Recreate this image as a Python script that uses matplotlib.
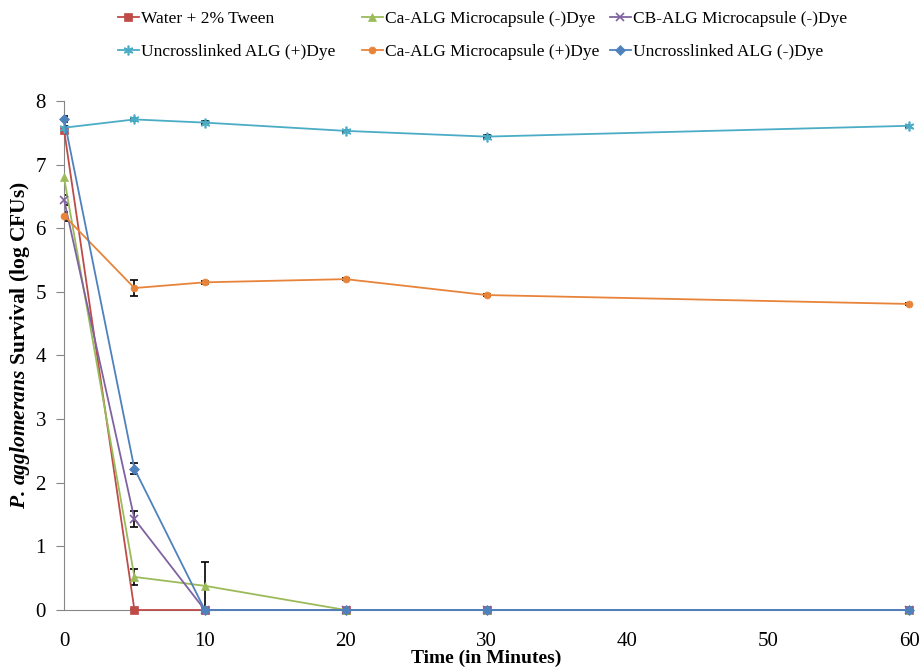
import numpy as np
import matplotlib.pyplot as plt

plt.rcParams['font.family'] = ['Liberation Serif', 'DejaVu Serif']
plt.rcParams['mathtext.fontset'] = 'custom'
plt.rcParams['mathtext.bfit'] = 'Liberation Serif:italic:bold'
plt.rcParams['mathtext.it'] = 'Liberation Serif:italic'
plt.rcParams['mathtext.rm'] = 'Liberation Serif'

time = [0, 5, 10, 20, 30, 60]

water_tween = [7.55, 0, 0, 0, 0, 0]
water_err = [0.05, 0, 0, 0, 0, 0]
ca_alg_nodye = [6.8, 0.52, 0.38, 0, 0, 0]
ca_alg_nodye_err = [0.68, 0.13, 0.38, 0, 0, 0]
cb_alg_nodye = [6.45, 1.43, 0, 0, 0, 0]
cb_alg_nodye_err = [0.08, 0.13, 0, 0, 0, 0]
uncl_dye = [7.58, 7.71, 7.66, 7.53, 7.44, 7.61]
uncl_dye_err = [0.03, 0.02, 0.02, 0.02, 0.02, 0.02]
ca_alg_dye = [6.2, 5.06, 5.15, 5.2, 4.95, 4.81]
ca_alg_dye_err = [0.06, 0.12, 0.02, 0.02, 0.02, 0.02]
uncl_nodye = [7.72, 2.22, 0, 0, 0, 0]
uncl_nodye_err = [0.05, 0.09, 0, 0, 0, 0]

series = [
    ("Water + 2% Tween", water_tween, water_err, '#BE4B48', 's', 6),
    ("Ca-ALG Microcapsule (-)Dye", ca_alg_nodye, ca_alg_nodye_err, '#9BBB59', '^', 6),
    ("CB-ALG Microcapsule (-)Dye", cb_alg_nodye, cb_alg_nodye_err, '#7F63A1', 'x', 6),
    ("Uncrosslinked ALG (+)Dye", uncl_dye, uncl_dye_err, '#4BACC6', (6, 2, 0), 7),
    ("Ca-ALG Microcapsule (+)Dye", ca_alg_dye, ca_alg_dye_err, '#E8843A', 'o', 5),
    ("Uncrosslinked ALG (-)Dye", uncl_nodye, uncl_nodye_err, '#4F81BD', 'D', 5),
]

fig = plt.figure(figsize=(9.21, 6.71), dpi=100)
ax = fig.add_axes([0.0695, 0.0909, 0.9175, 0.7586])

handles = {}
for label, y, err, color, mk, ms in series:
    ax.errorbar(time, y, yerr=err, fmt='none', ecolor='black', elinewidth=1.2,
                capsize=3, capthick=1.2, zorder=2)
    line, = ax.plot(time, y, color=color, marker=mk, markersize=ms, lw=1.3,
                    markeredgewidth=1.2 if mk in ('x', (6, 2, 0)) else 0.5,
                    markeredgecolor=color, label=label, zorder=3, clip_on=False)
    handles[label] = line

ax.set_xlim(0, 60)
ax.set_ylim(0, 8)
ax.set_xticks(range(0, 61, 10))
ax.set_yticks(range(0, 9))
for s in ['top', 'right']:
    ax.spines[s].set_visible(False)
for s in ['left', 'bottom']:
    ax.spines[s].set_color('#868686')
ax.tick_params(axis='y', colors='#868686', length=6, labelcolor='black',
               labelsize=15, pad=7)
ax.tick_params(axis='x', length=0, labelcolor='black', labelsize=15, pad=16)
ax.set_xlabel('Time (in Minutes)', fontsize=14, fontweight='bold', labelpad=-1)
ax.set_ylabel(r'$\bfit{P.\,agglomerans}$ Survival (log CFUs)', fontsize=15.5,
              fontweight='bold')
ax.yaxis.set_label_coords(-0.038, 0.52)

columns = [
    (118, ["Water + 2% Tween", "Uncrosslinked ALG (+)Dye"]),
    (362, ["Ca-ALG Microcapsule (-)Dye", "Ca-ALG Microcapsule (+)Dye"]),
    (610, ["CB-ALG Microcapsule (-)Dye", "Uncrosslinked ALG (-)Dye"]),
]
for xpix, labels in columns:
    leg = fig.legend([handles[k] for k in labels], labels, loc='upper left',
                     bbox_to_anchor=(xpix / 921, 1 - 11 / 671), frameon=False,
                     fontsize=12.5, handlelength=1.2, handletextpad=0.15,
                     labelspacing=0.95, borderpad=0, borderaxespad=0)

fig.savefig('out.png', dpi=100)
